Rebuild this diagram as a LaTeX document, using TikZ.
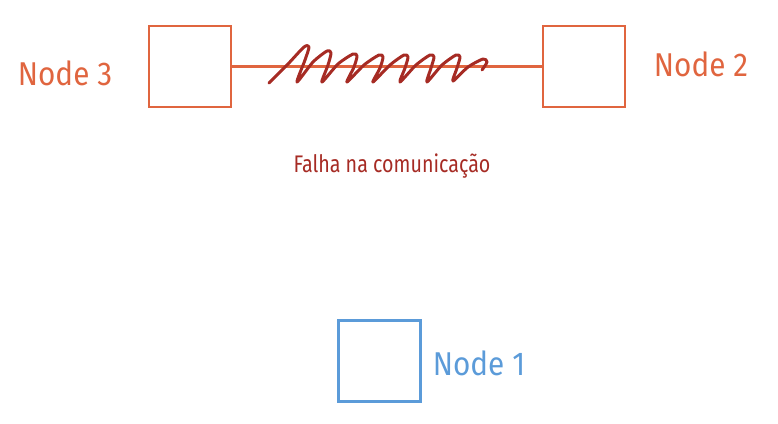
\documentclass[tikz,border=0pt]{standalone}
\usepackage{fontspec}
\newfontfamily\handfont[FakeStretch=0.82]{Fira Sans}
\newfontfamily\labelfont[FakeStretch=0.9]{Fira Sans}
\definecolor{nodeorange}{HTML}{E0653F}
\definecolor{failred}{HTML}{A62B24}
\definecolor{nodeblue}{HTML}{5B9BD9}
\begin{document}
\begin{tikzpicture}[x=1pt,y=-1pt,
            box_style/.style={rectangle, draw, line width=2.4pt, minimum width=82pt, minimum height=81pt, inner sep=0pt},
            label_style/.style={font=\labelfont\fontsize{33}{36}\selectfont, inner sep=0pt},
            link_style/.style={draw=nodeorange, line width=2.4pt}]
            \useasboundingbox (0,0) rectangle (778,423);
            \node[box_style, draw=nodeorange] (n3) at (190,66.5){};
            \node[box_style, draw=nodeorange] (n2) at (584,66.5){};
            \node[box_style, draw=nodeblue] (n1) at (379.5,361){};
            \node[label_style, text=nodeorange] (l3) at (65,73){Node 3};
            \node[label_style, text=nodeorange] (l2) at (701,64){Node 2};
            \node[label_style, text=nodeblue] (l1) at (479,363){Node 1};
            \node[font=\handfont\fontsize{24}{28}\selectfont, text=failred, inner sep=0pt] (fail) at (392,166){Falha na comunica\c{c}\~ao};
            \draw[link_style] (n3) edge (n2);
            % scribble over the link
            \draw[failred, line width=3pt, line cap=round, line join=round]
                plot[smooth, tension=0.45] coordinates {(269,83) (288,64) (304,47) (309,47) (305,60) (297,82)
                (313,62) (327,51) (331,53) (328,65) (322,82)
                (338,64) (353,54) (357,56) (354,67) (347,82)
                (364,65) (379,55) (383,57) (380,68) (373,82)
                (390,65) (404,55) (408,57) (405,68) (400,82)
                (416,65) (430,55) (434,57) (431,68) (427,82)
                (442,65) (456,55) (460,57) (457,68) (453,81)
                (468,67) (483,59) (487,62) (482,70)};
        \end{tikzpicture}
\end{document}
